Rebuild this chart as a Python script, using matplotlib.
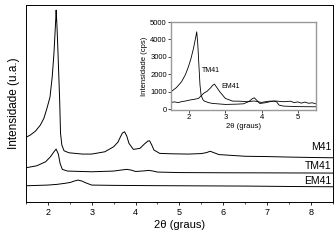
"""
XRD patterns of M41, TM41 and EM41 with low-angle inset.
"""
import matplotlib
matplotlib.use('Agg')
import matplotlib.pyplot as plt

plt.rcParams['font.family'] = ['Liberation Sans', 'DejaVu Sans']

# main panel (arbitrary units, curves already offset)
m41_x = [1.5, 1.6, 1.72, 1.83, 1.91, 1.98, 2.05, 2.10, 2.14, 2.18, 2.19, 2.21,
         2.23, 2.27, 2.29, 2.32, 2.37, 2.48, 2.79, 3.0, 3.3, 3.5, 3.6, 3.65,
         3.7, 3.75, 3.8, 3.85, 3.95, 4.1, 4.2, 4.28, 4.32, 4.37, 4.42, 4.55,
         4.8, 5.2, 5.5, 5.62, 5.7, 5.78, 5.9, 6.5, 7.0, 7.5, 8.0, 8.5]
m41_y = [64.7, 67, 71, 77, 83.7, 93.7, 105, 125, 148.7, 182, 192, 175,
         152, 102, 68.7, 57, 51.3, 49.3, 48, 48, 50.3, 55.3, 60, 64.7,
         69, 70.3, 66, 58.7, 52.7, 53.7, 58, 61, 61.3, 57, 52, 48.7,
         48.3, 48, 48.5, 49.5, 50.8, 49.5, 47.5, 45.8, 45.5, 45, 44.6, 44.3]

tm41_x = [1.5, 1.75, 1.95, 2.06, 2.14, 2.19, 2.24, 2.28, 2.33, 2.45, 3.0, 3.5,
          3.7, 3.8, 3.9, 4.0, 4.2, 4.3, 4.4, 4.5, 5.0, 6.0, 7.0, 8.5]
tm41_y = [34.3, 36.3, 40.3, 45.3, 50.3, 53, 48, 38.7, 32.7, 31, 30.3, 31,
          32.2, 32.7, 32, 30.6, 31.2, 31.7, 31, 30, 29.5, 29.3, 29.2, 29]

em41_x = [1.5, 2.0, 2.21, 2.4, 2.52, 2.6, 2.69, 2.78, 2.85, 3.0, 3.5, 4.5, 5.5,
          6.5, 7.5, 8.5]
em41_y = [16.3, 17, 17.7, 18.8, 19.7, 21, 22, 21, 19.5, 17, 16.7, 16.4, 16.2,
          16, 15.6, 15.3]

labels = ['M41', 'TM41', 'EM41']
label_y = [55, 36, 21]

# inset (cps)
in_tm41_x = [1.5, 1.65, 1.79, 1.9, 1.98, 2.05, 2.12, 2.17, 2.21, 2.24, 2.27,
             2.3, 2.33, 2.38, 2.42, 2.55, 2.66, 3.0, 3.3, 3.5, 3.65, 3.75, 3.8,
             3.87, 3.95, 4.1, 4.25, 4.35, 4.42, 4.48, 4.6, 5.0, 5.5]
in_tm41_y = [1008, 1250, 1580, 2000, 2440, 2900, 3490, 4000, 4440, 3700, 2530,
             1400, 820, 560, 475, 380, 340, 285, 300, 320, 450, 620, 665,
             520, 340, 380, 450, 475, 430, 250, 190, 160, 150]

in_em41_x = [1.5, 1.6, 1.7, 1.8, 1.9, 2.0, 2.15, 2.26, 2.4, 2.5, 2.6, 2.65, 2.7,
             2.75, 2.85, 3.0, 3.2, 3.4, 3.6, 3.8, 4.0, 4.2, 4.4, 4.6, 4.8,
             4.9, 5.0, 5.1, 5.2, 5.3, 5.4, 5.5]
in_em41_y = [400, 430, 390, 450, 480, 530, 580, 630, 920, 1045, 1250, 1380, 1445,
             1300, 1000, 630, 475, 470, 440, 480, 400, 470, 480, 440, 470,
             390, 430, 360, 420, 350, 380, 320]

fig = plt.figure(figsize=(3.36, 2.42), dpi=100)
ax = fig.add_axes([0.077, 0.165, 0.914, 0.814])

for xs, ys in [(m41_x, m41_y), (tm41_x, tm41_y), (em41_x, em41_y)]:
    ax.plot(xs, ys, color='black', linewidth=0.7)
for lab, ly in zip(labels, label_y):
    ax.text(8.47, ly, lab, ha='right', va='center', fontsize=7.5)

ax.set_xlim(1.5, 8.5)
ax.set_ylim(0, 197)
ax.set_xticks([2, 3, 4, 5, 6, 7, 8])
ax.set_xticks([1.5, 2.5, 3.5, 4.5, 5.5, 6.5, 7.5, 8.5], minor=True)
ax.set_yticks([])
ax.tick_params(axis='x', labelsize=6.5, length=2.5, width=0.6, pad=2)
ax.tick_params(axis='x', which='minor', length=1.5, width=0.5)
ax.set_xlabel('2\u03b8 (graus)', fontsize=8, labelpad=2)
ax.set_ylabel('Intensidade (u.a.)', fontsize=8.5, labelpad=4)
for s in ax.spines.values():
    s.set_linewidth(0.7)

ins = fig.add_axes([0.509, 0.545, 0.431, 0.364])
ins.plot(in_tm41_x, in_tm41_y, color='black', linewidth=0.6)
ins.plot(in_em41_x, in_em41_y, color='black', linewidth=0.6)
ins.text(2.34, 2250, 'TM41', fontsize=5, va='center')
ins.text(2.88, 1300, 'EM41', fontsize=5, va='center')
ins.set_xlim(1.5, 5.5)
ins.set_ylim(-40, 5000)
ins.set_xticks([2, 3, 4, 5])
ins.set_yticks([0, 1000, 2000, 3000, 4000, 5000])
ins.tick_params(labelsize=5.5, length=2, width=0.5, pad=1)
ins.set_xlabel('2\u03b8 (graus)', fontsize=5.5, labelpad=1)
ins.set_ylabel('Intensidade (cps)', fontsize=5.5, labelpad=1.5)
for s in ins.spines.values():
    s.set_color('#999999')
    s.set_linewidth(1.0)

fig.savefig('out.png', dpi=100)
plt.close(fig)
